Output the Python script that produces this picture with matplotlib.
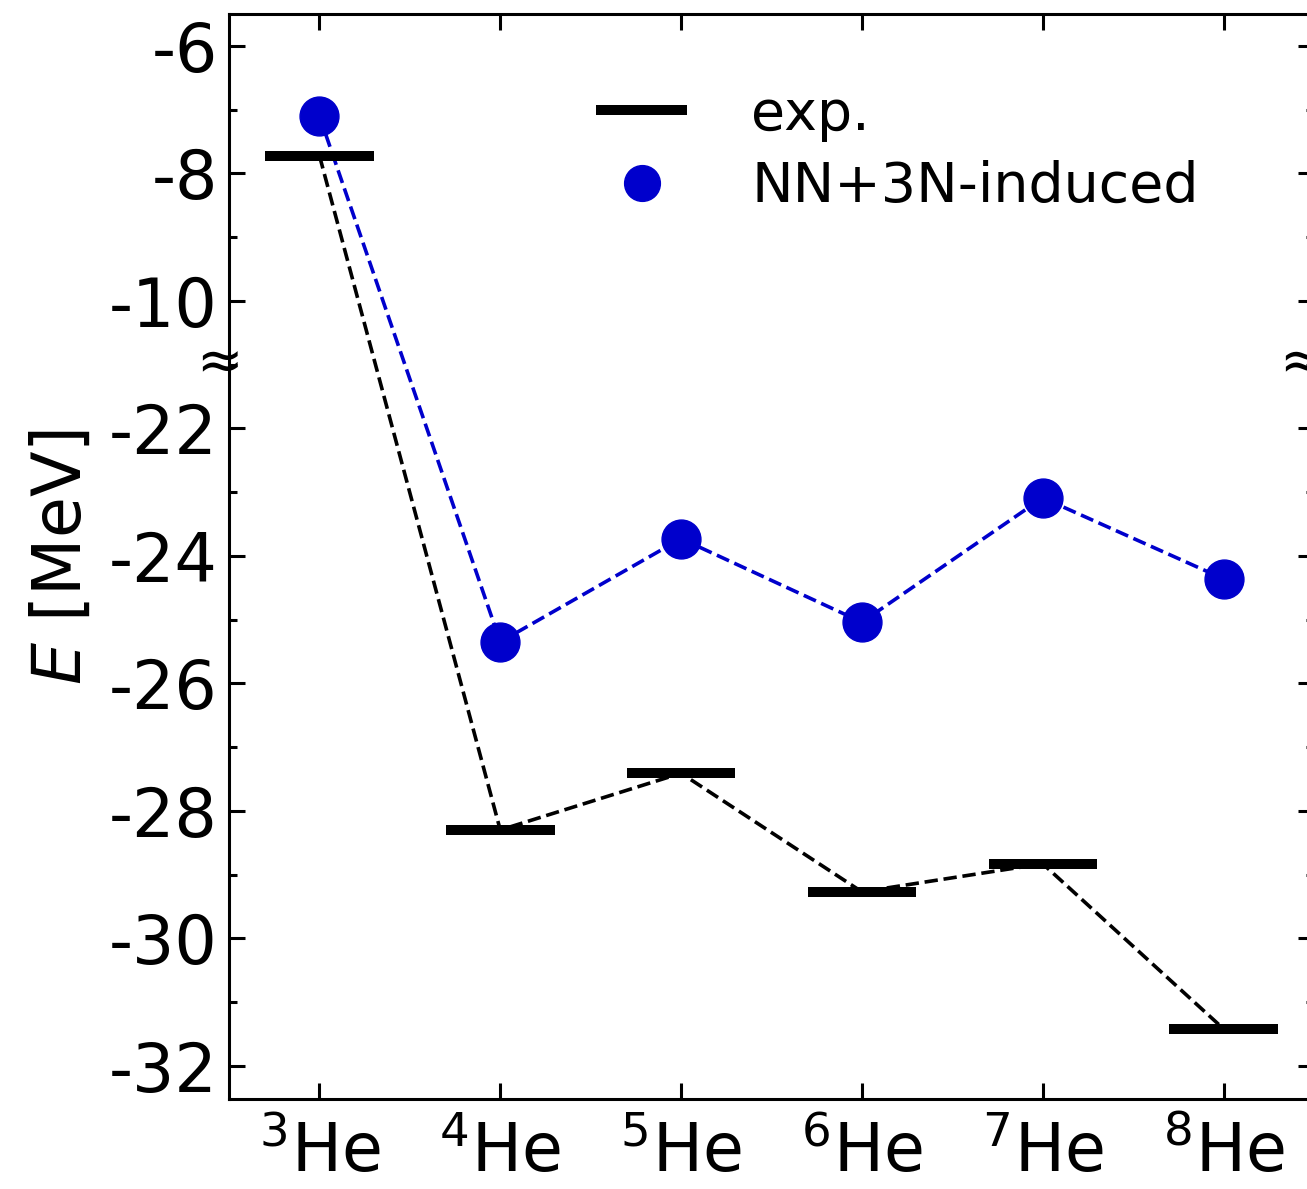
import numpy as np
import matplotlib.pyplot as plt
from matplotlib.ticker import MultipleLocator

plt.rcParams["mathtext.fontset"] = "dejavusans"

# data (MeV)
isotopes = ["$^{3}$He", "$^{4}$He", "$^{5}$He", "$^{6}$He", "$^{7}$He", "$^{8}$He"]
mass_numbers = [3, 4, 5, 6, 7, 8]
e_exp = [-7.72, -28.30, -27.41, -29.27, -28.83, -31.42]
e_calc = [-7.10, -25.35, -23.73, -25.04, -23.09, -24.36]
tick_values = [-6, -8, -10, -22, -24, -26, -28, -30, -32]

# broken y axis: the range (-21, -11) is cut out
BREAK_SHIFT = 10.0
BREAK_AT = -11.0
BLUE = "#0000cc"


def squeeze(e):
    """Maps energies onto the broken axis."""
    e = np.asarray(e, dtype=float)
    return np.where(e < -16, e + BREAK_SHIFT, e)


fig = plt.figure(figsize=(13.07, 11.89), dpi=100)
ax = fig.add_axes([229 / 1307, 1 - 1099 / 1189, (1314 - 229) / 1307, (1099 - 14) / 1189])

x = np.array(mass_numbers)
y_exp = squeeze(e_exp)
y_calc = squeeze(e_calc)

ax.plot(x, y_exp, color="black", linestyle="--", linewidth=2.6, zorder=2)
ax.plot(x, y_calc, color=BLUE, linestyle="--", linewidth=2.6, zorder=2)
ax.hlines(y_exp, x - 0.3, x + 0.3, colors="black", linewidth=7.2, label="exp.", zorder=3)
ax.plot(x, y_calc, linestyle="none", marker="o", markersize=28, color=BLUE,
        label="NN+3N-induced", zorder=4)

ax.set_xlim(2.5, 8.5)
ax.set_ylim(-22.52, -5.5)

ax.set_xticks(mass_numbers)
ax.set_xticklabels(isotopes)
ax.set_yticks(squeeze(tick_values))
ax.set_yticklabels([str(v) for v in tick_values])
ax.yaxis.set_minor_locator(MultipleLocator(1))

ax.tick_params(which="both", direction="in", top=True, right=True, width=2.2)
ax.tick_params(which="major", length=11.5, labelsize=48, pad=8)
ax.tick_params(axis="x", which="major", pad=15)
ax.tick_params(which="minor", length=5.8)
for sp in ax.spines.values():
    sp.set_linewidth(2.2)

ax.set_ylabel(r"$E\ \left[\mathrm{MeV}\right]$", fontsize=48, labelpad=10)

# break marks on both spines
trans = ax.get_yaxis_transform()
for xb in (-0.009, 0.989):
    ax.text(xb, BREAK_AT, "\u2248", transform=trans, ha="center", va="center",
            fontsize=40, clip_on=False)

ax.legend(loc="upper left", bbox_to_anchor=(0.338, 0.932), frameon=False,
          fontsize=40, handlelength=1.65, handletextpad=1.15, borderpad=0,
          borderaxespad=0, labelspacing=0.33, markerscale=0.92, numpoints=1)

fig.savefig("out.png", dpi=100)
